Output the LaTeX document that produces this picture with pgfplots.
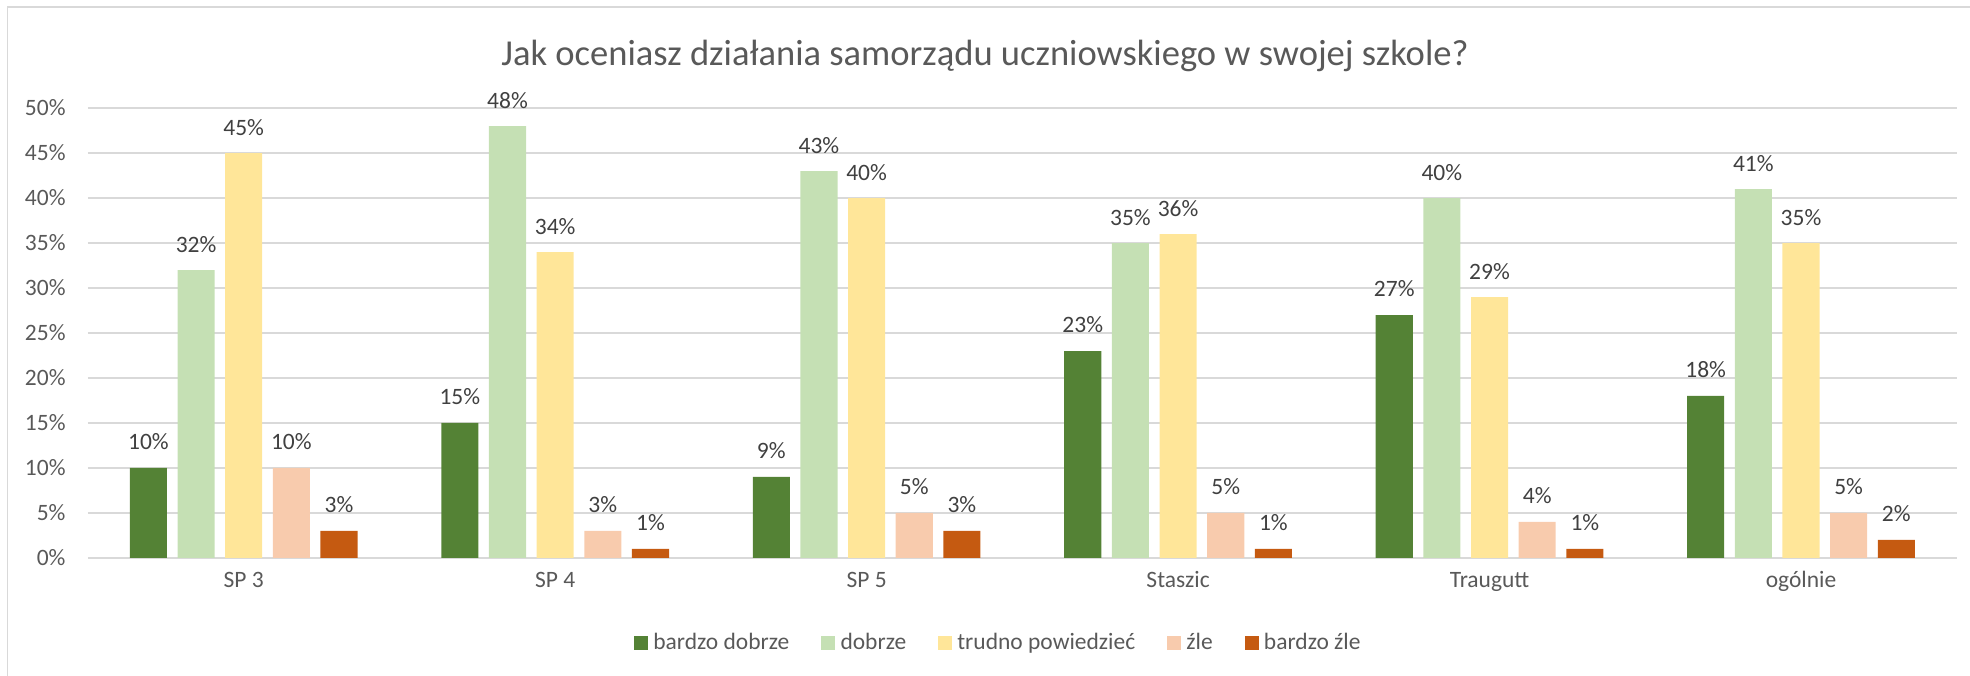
\documentclass[border=0pt]{standalone}
\usepackage{pgfplots}
\pgfplotsset{compat=1.18}
\usepackage{fontspec}
\setmainfont{Carlito}
\definecolor{cA}{HTML}{548235}
\definecolor{cB}{HTML}{C5E0B4}
\definecolor{cC}{HTML}{FFE699}
\definecolor{cD}{HTML}{F8CBAD}
\definecolor{cE}{HTML}{C55A11}
\definecolor{txt}{HTML}{595959}
\definecolor{lbl}{HTML}{404040}
\definecolor{grd}{HTML}{D9D9D9}
\begin{document}
\begin{tikzpicture}
\path[use as bounding box] (0,0) rectangle (754.8pt,259.0pt);
\draw[grd, line width=0.6pt] (2.8pt,0) -- (2.8pt,256.3pt) -- (754.8pt,256.3pt);
\node[anchor=base, font=\fontsize{14}{16}\selectfont, text=txt, inner sep=0] at (377.4pt,233.8pt)
  {Jak oceniasz działania samorządu uczniowskiego w swojej szkole?};
\begin{axis}[
  at={(33.71pt,45.21pt)}, anchor=south west,
  scale only axis, width=716.0pt, height=172.4pt,
  ybar, bar width=0.119,
  xmin=-0.5, xmax=5.5, ymin=0, ymax=50,
  xtick={0,1,2,3,4,5},
  xticklabels={SP 3,SP 4,SP 5,Staszic,Traugutt,ogólnie},
  ytick={0,5,...,50},
  yticklabel={\pgfmathprintnumber{\tick}\%},
  /pgf/number format/assume math mode=true,
  ymajorgrids, grid style={grd, line width=0.5pt},
  axis line style={draw=none},
  major tick style={draw=none},
  tick label style={font=\fontsize{9}{11}\selectfont, text=txt},
  yticklabel style={anchor=east, inner sep=0pt, xshift=-8.4pt},
  xticklabel style={anchor=base, inner sep=0pt, yshift=-7.1pt},
  nodes near coords={\pgfmathprintnumber{\pgfplotspointmeta}\%},
  every node near coord/.append style={font=\fontsize{9}{11}\selectfont, text=lbl, anchor=base, inner sep=0pt, yshift=6.9pt},
  legend style={at={(0.488,-0.189)}, anchor=center, draw=none, fill=none,
    font=\fontsize{9}{11}\selectfont, text=txt, legend columns=-1,
    /tikz/every even column/.append style={column sep=10.2pt},
    inner sep=0pt},
  legend image code/.code={\fill[#1] (0pt,-2.7pt) rectangle (5.4pt,2.7pt);},
]
\addplot[bar shift=-0.306, fill=cA, draw=none] coordinates {(0,10) (1,15) (2,9) (3,23) (4,27) (5,18)};
\addplot[bar shift=-0.153, fill=cB, draw=none] coordinates {(0,32) (1,48) (2,43) (3,35) (4,40) (5,41)};
\addplot[bar shift=0, fill=cC, draw=none] coordinates {(0,45) (1,34) (2,40) (3,36) (4,29) (5,35)};
\addplot[bar shift=0.153, fill=cD, draw=none] coordinates {(0,10) (1,3) (2,5) (3,5) (4,4) (5,5)};
\addplot[bar shift=0.306, fill=cE, draw=none] coordinates {(0,3) (1,1) (2,3) (3,1) (4,1) (5,2)};
\legend{bardzo dobrze, dobrze, trudno powiedzieć, źle, bardzo źle}
\end{axis}
\end{tikzpicture}
\end{document}
